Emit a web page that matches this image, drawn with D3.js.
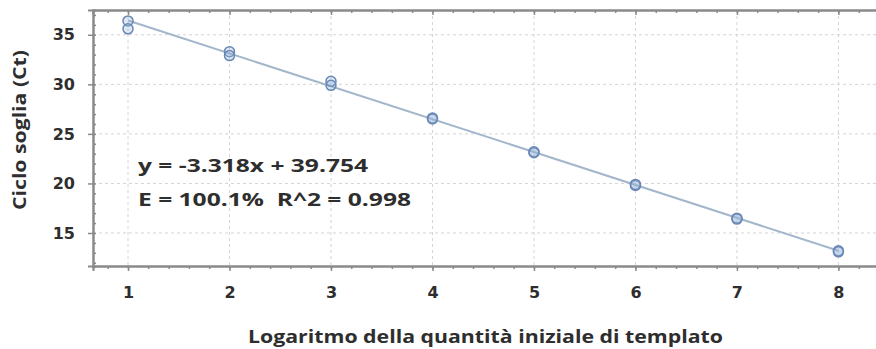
<!DOCTYPE html>
<html>
<head>
<meta charset="utf-8">
<script src="https://cdn.jsdelivr.net/npm/d3@7"></script>
<style>
  body { margin: 0; background: #fff; }
  text { font-family: "Open Sans", sans-serif; fill: #2e2e2e; }
</style>
</head>
<body>
<svg id="chart" width="876" height="349"></svg>
<script>
// <-- Data -->
var log_qty = [1, 1, 2, 2, 3, 3, 4, 4, 5, 5, 6, 6, 7, 7, 8, 8];
var ct      = [36.4, 35.6, 33.3, 32.9, 30.3, 29.9, 26.6, 26.5, 23.2, 23.1, 19.8, 19.9, 16.4, 16.5, 13.2, 13.1];
var x_ticks = [1, 2, 3, 4, 5, 6, 7, 8];
var y_ticks = [15, 20, 25, 30, 35];
var slope = -3.318, intercept = 39.754;
var eq_lines = ["y = -3.318x + 39.754", "E = 100.1%  R^2 = 0.998"];
var eq_widths = [230, 273];

;(function(){
  var svg = d3.select("#chart");
  var left = 93, right = 878, top = 10, bottom = 266;

  var x = d3.scaleLinear().domain([0.655, 8.39]).range([left, right]);
  var y = d3.scaleLinear().domain([11.67, 37.5]).range([bottom, top]);

  // grid
  svg.append("g").selectAll("line")
     .data(x_ticks).enter().append("line")
     .attr("x1", function(d){ return x(d); })
     .attr("x2", function(d){ return x(d); })
     .attr("y1", top).attr("y2", bottom)
     .attr("stroke", "#d4d4d4").attr("stroke-dasharray", "3,3");
  svg.append("g").selectAll("line")
     .data(y_ticks).enter().append("line")
     .attr("y1", function(d){ return y(d); })
     .attr("y2", function(d){ return y(d); })
     .attr("x1", left).attr("x2", right)
     .attr("stroke", "#d4d4d4").attr("stroke-dasharray", "3,3");

  // axes
  var minor_x = d3.range(0.8, 8.4, 0.2);
  var minor_y = d3.range(12, 38, 1);

  var gx = svg.append("g").attr("transform", "translate(0," + bottom + ")")
    .call(d3.axisBottom(x).tickValues(minor_x).tickSize(3).tickFormat(""));
  var gx2 = svg.append("g").attr("transform", "translate(0," + bottom + ")")
    .call(d3.axisBottom(x).tickValues(x_ticks).tickSize(5).tickPadding(16).tickFormat(d3.format("d")));
  var gt = svg.append("g").attr("transform", "translate(0," + top + ")")
    .call(d3.axisTop(x).tickValues(minor_x).tickSize(-3).tickFormat(""));
  var gt2 = svg.append("g").attr("transform", "translate(0," + top + ")")
    .call(d3.axisTop(x).tickValues(x_ticks).tickSize(-5).tickFormat(""));
  var gy = svg.append("g").attr("transform", "translate(" + left + ",0)")
    .call(d3.axisLeft(y).tickValues(minor_y).tickSize(-3).tickFormat(""));
  var gy2 = svg.append("g").attr("transform", "translate(" + left + ",0)")
    .call(d3.axisLeft(y).tickValues(y_ticks).tickSize(5).tickPadding(13).tickFormat(d3.format("d")));

  [gx, gx2, gt, gt2, gy, gy2].forEach(function(g){
    g.select(".domain").attr("stroke", "#8a8a8a").attr("stroke-width", 2);
    g.selectAll(".tick line").attr("stroke", "#8a8a8a").attr("stroke-width", 1.5);
    g.selectAll(".tick text")
     .style("font-family", "'DejaVu Sans', sans-serif")
     .style("font-size", "16px").style("font-weight", "bold").attr("fill", "#333");
  });

  // regression line
  svg.append("line")
     .attr("x1", x(1)).attr("y1", y(slope * 1 + intercept))
     .attr("x2", x(8)).attr("y2", y(slope * 8 + intercept))
     .attr("stroke", "#a3b6cb").attr("stroke-width", 2);

  // points
  svg.append("g").selectAll("circle")
     .data(log_qty).enter().append("circle")
     .attr("cx", function(d){ return x(d); })
     .attr("cy", function(d, i){ return y(ct[i]); })
     .attr("r", 5)
     .attr("fill", "rgba(150,180,215,0.3)")
     .attr("stroke", "#6a88b6").attr("stroke-width", 1.5);

  // equation
  svg.append("g").selectAll("text")
     .data(eq_lines).enter().append("text")
     .attr("x", 138)
     .attr("y", function(d, i){ return 172 + i * 34; })
     .attr("textLength", function(d, i){ return eq_widths[i]; })
     .attr("lengthAdjust", "spacingAndGlyphs")
     .style("white-space", "pre")
     .style("font-size", "18px").style("font-weight", "700")
     .attr("fill", "#222")
     .text(function(d){ return d; });

  // axis titles
  svg.append("text")
     .attr("x", 248).attr("y", 343)
     .attr("textLength", 475).attr("lengthAdjust", "spacingAndGlyphs")
     .style("font-size", "18px").style("font-weight", "700")
     .text("Logaritmo della quantità iniziale di templato");
  svg.append("text")
     .attr("transform", "translate(26,130) rotate(-90)")
     .attr("text-anchor", "middle")
     .attr("textLength", 160).attr("lengthAdjust", "spacingAndGlyphs")
     .style("font-size", "17px").style("font-weight", "700")
     .text("Ciclo soglia (Ct)");
})();
</script>
</body>
</html>
